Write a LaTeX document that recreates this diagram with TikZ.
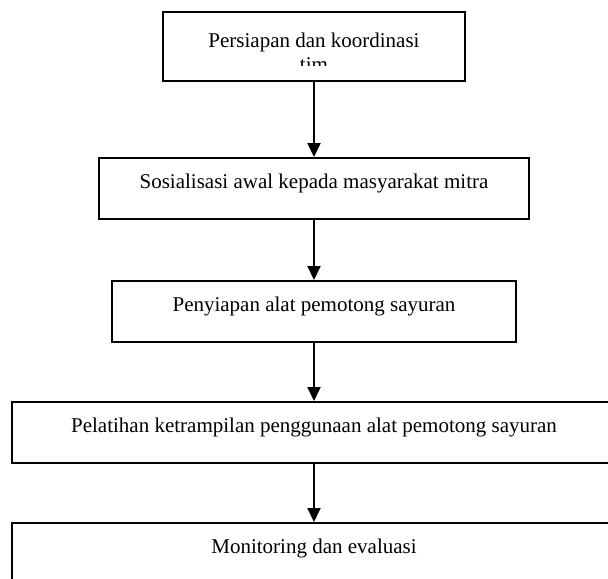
\documentclass[tikz,border=0pt]{standalone}
\usepackage{fontspec}
\setmainfont{Liberation Serif}
\usetikzlibrary{arrows.meta}
\tikzstyle{firstbox} = [rectangle, inner sep=0pt, align=center, text height=44.8pt, text depth=7pt, minimum width=226.5pt]
\tikzstyle{boxline} = [draw=black, line width=1.5pt]
\tikzstyle{process} = [rectangle, draw=black, line width=1.5pt, inner sep=0pt, text height=22.5pt, text depth=23.25pt, text centered]
\tikzstyle{arrow} = [line width=1.5pt, -{Triangle[length=10.5pt,width=9.75pt]}]

\begin{document}
\begin{tikzpicture}[x=0.75pt, y=-0.75pt, node distance=90.75pt, font=\fontsize{15.75}{18.5}\selectfont]
                \useasboundingbox (0,0) rectangle (608,579);
                % first box: the second line is cut off by the box
                \begin{scope}
                \clip (0,12) rectangle (608,65);
                \node (prep) [firstbox] at (314,46.5) {Persiapan dan koordinasi\\tim};
                \end{scope}
                \draw [boxline] (prep.south west) rectangle (prep.north east);
                \node (sos) [process, minimum width=322.5pt, below of=prep, yshift=-15.75pt] {Sosialisasi awal kepada masyarakat mitra};
                \node (siap) [process, minimum width=303pt, below of=sos, yshift=-1.5pt] {Penyiapan alat pemotong sayuran};
                \node (latih) [process, minimum width=453pt, below of=siap] {Pelatihan ketrampilan penggunaan alat pemotong sayuran};
                \node (monev) [process, minimum width=453pt, below of=latih] {Monitoring dan evaluasi};

                \draw [arrow] (prep) -- (sos);
                \draw [arrow] (sos) -- (siap);
                \draw [arrow] (siap) -- (latih);
                \draw [arrow] (latih) -- (monev);
            \end{tikzpicture}
\end{document}
